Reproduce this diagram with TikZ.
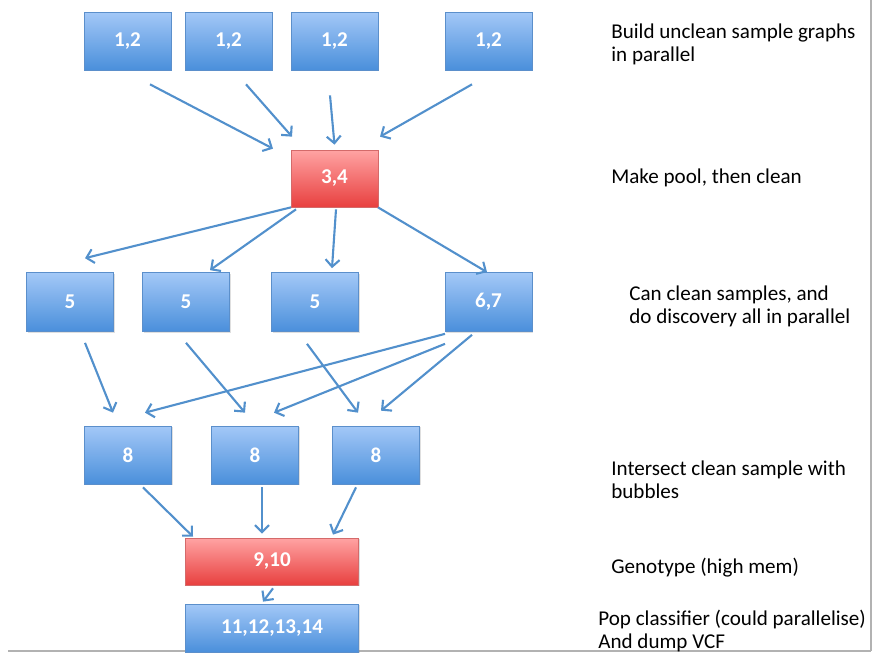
\documentclass[tikz,border=0pt]{standalone}
\usepackage{fontspec}
\setmainfont{Carlito}
\usetikzlibrary{arrows.meta,shadows}
\definecolor{bluetop}{HTML}{A3C8F7}
\definecolor{bluebot}{HTML}{4A8FDB}
\definecolor{blueline}{HTML}{5B8FCB}
\definecolor{redtop}{HTML}{FFA3A3}
\definecolor{redbot}{HTML}{E8403F}
\definecolor{redline}{HTML}{D46A6A}
\definecolor{arrowblue}{HTML}{5290CC}

\begin{document}
\begin{tikzpicture}[x=0.02cm, y=-0.02cm,
    task/.style={draw=blueline, top color=bluetop, bottom color=bluebot, text=white,
        minimum width=1.74cm, minimum height=1.16cm, inner sep=0pt,
        font=\fontsize{12}{14}\selectfont\bfseries,
        drop shadow={opacity=0.25, shadow xshift=0.8pt, shadow yshift=-0.8pt}},
    pool/.style={task, draw=redline, top color=redtop, bottom color=redbot},
    note/.style={anchor=west, align=left, inner sep=0pt, font=\fontsize{12}{13}\selectfont},
    arr/.style={draw=arrowblue, line width=1.2pt, -{Straight Barb[length=4pt,width=8pt]}}]
\useasboundingbox (0,0) rectangle (875,653);
\draw[gray!60, line width=0.6pt] (8,651) -- (871,651) (871,0) -- (871,651);

\node[task] (t1) at (127.5,41) {1,2};
\node[task] (t2) at (228.5,41) {1,2};
\node[task] (t3) at (334.5,41) {1,2};
\node[task] (t4) at (488.5,41) {1,2};
\node[pool, minimum height=1.14cm] (p34) at (334.5,178.5) {3,4};
\node[task, minimum height=1.18cm] (c1) at (70,302) {5};
\node[task, minimum height=1.18cm] (c2) at (186,302) {5};
\node[task, minimum height=1.18cm] (c3) at (315,302) {5};
\node[task, minimum height=1.18cm] (d67) at (488.5,302) {6,7};
\node[task] (i1) at (128,455) {8};
\node[task] (i2) at (255,455) {8};
\node[task] (i3) at (376,455) {8};
\node[pool, minimum width=3.46cm, minimum height=0.94cm] (g) at (272,561.5) {9,10};
\node[task, minimum width=3.46cm, minimum height=0.96cm] (pc) at (272,628) {11,12,13,14};

\node[note] (n1) at (611,44) {Build unclean sample graphs\\in parallel};
\node[note] (n2) at (611,178) {Make pool, then clean};
\node[note] (n3) at (629,306.5) {Can clean samples, and\\do discovery all in parallel};
\node[note] (n4) at (611,480) {Intersect clean sample with\\bubbles};
\node[note] (n5) at (611,568) {Genotype (high mem)};
\node[note] (n6) at (598,631) {Pop classifier (could parallelise)\\And dump VCF};

\draw[arr] ([shift={(22.5,14)}]t1.south) -- ([shift={(-61.5,-1)}]p34.north);
\draw[arr] ([shift={(17.5,14)}]t2.south) -- ([shift={(-42.5,-13)}]p34.north);
\draw[arr] ([shift={(-4.5,25)}]t3.south) -- ([shift={(0,-5)}]p34.north);
\draw[arr] ([shift={(-16.5,14)}]t4.south) -- ([shift={(45.5,-13)}]p34.north);

\draw[arr] ([shift={(-43.5,0)}]p34.south) -- ([shift={(15,-14)}]c1.north);
\draw[arr] ([shift={(-38.5,2)}]p34.south) -- ([shift={(24,-2)}]c2.north);
\draw[arr] ([shift={(1.5,2)}]p34.south) -- ([shift={(17,-4)}]c3.north);
\draw[arr] ([shift={(43.5,0)}]p34.south) -- ([shift={(-1.5,0)}]d67.north);

\draw[arr] ([shift={(15,11)}]c1.south) -- ([shift={(-15,-13)}]i1.north);
\draw[arr] ([shift={(0,11)}]c2.south) -- ([shift={(-10,-13)}]i2.north);
\draw[arr] ([shift={(-8,12)}]c3.south) -- ([shift={(-18,-13)}]i3.north);
\draw[arr] ([shift={(-43.5,2)}]d67.south) -- ([shift={(17,-13)}]i1.north);
\draw[arr] ([shift={(-43.5,12)}]d67.south) -- ([shift={(19,-13)}]i2.north);
\draw[arr] ([shift={(-16.5,3)}]d67.south) -- ([shift={(5,-15)}]i3.north);

\draw[arr] ([shift={(15,3)}]i1.south) -- ([shift={(-79,-1)}]g.north);
\draw[arr] ([shift={(7,3)}]i2.south) -- ([shift={(-10,-4)}]g.north);
\draw[arr] ([shift={(-20,3)}]i3.south) -- ([shift={(61,-3)}]g.north);
\draw[arr] ([shift={(1,3)}]g.south) -- ([shift={(-9,-2)}]pc.north);
\end{tikzpicture}
\end{document}
